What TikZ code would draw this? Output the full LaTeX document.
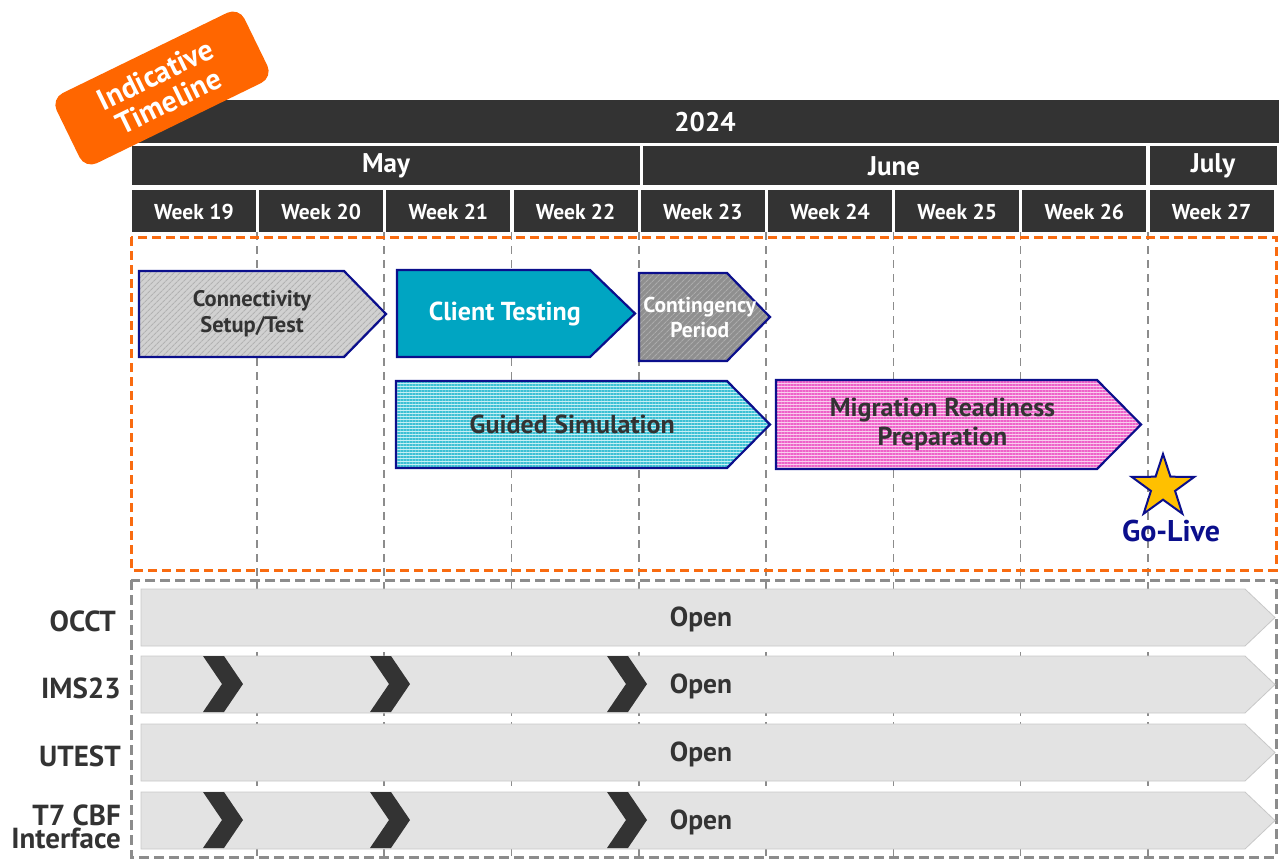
\documentclass[tikz,border=0pt]{standalone}
\usepackage{fontspec}
\setmainfont{PT Sans}
\usetikzlibrary{shapes.geometric,patterns.meta}

\definecolor{headdark}{HTML}{333333}
\definecolor{badgeorange}{HTML}{FF6600}
\definecolor{boxorange}{HTML}{F96B10}
\definecolor{navy}{HTML}{0B0F8C}
\definecolor{gridgray}{HTML}{8C8C8C}
\definecolor{bargray}{HTML}{E3E3E3}
\definecolor{barline}{HTML}{C8C8C8}
\definecolor{clientteal}{HTML}{00A5C2}
\definecolor{starfill}{HTML}{FFC000}
\definecolor{guidebase}{HTML}{C6F0F5}
\definecolor{guideline}{HTML}{3CC0D4}
\definecolor{migbase}{HTML}{F9CDEE}
\definecolor{migline}{HTML}{EE62C9}

\tikzset{
  headbar/.style={fill=headdark},
  headtext/.style={text=white, inner sep=0pt, font=\bfseries\fontsize{27}{27}\selectfont},
  weektext/.style={headtext, font=\bfseries\fontsize{21.5}{21.5}\selectfont},
  gridline/.style={gridgray, line width=1.6pt, dash pattern=on 8pt off 6pt},
  badge/.style={fill=badgeorange, rounded corners=13pt, rotate=26,
    minimum width=209pt, minimum height=78pt, inner sep=0pt},
  badgetext/.style={rotate=26, text=white, align=center, inner sep=0pt,
    font=\bfseries\fontsize{30}{30}\selectfont},
  phaseline/.style={draw=navy, line width=2.2pt, line join=miter},
  phasetext/.style={align=center, inner sep=0pt, text=headdark,
    font=\bfseries\fontsize{22.5}{26}\selectfont},
  connfill/.style={preaction={fill=black!18},
    pattern={Lines[angle=45,distance=4pt,line width=1.2pt]}, pattern color=black!30},
  contfill/.style={preaction={fill=black!44},
    pattern={Lines[angle=45,distance=4pt,line width=1.2pt]}, pattern color=black!33},
  clientfill/.style={fill=clientteal},
  guidefill/.style={preaction={fill=guidebase},
    pattern={Lines[angle=0,distance=3pt,line width=1.3pt]}, pattern color=guideline},
  migfill/.style={preaction={fill=migbase},
    pattern={Lines[angle=0,distance=3pt,line width=1.3pt]}, pattern color=migline},
  conntext/.style={phasetext},
  conttext/.style={phasetext, xshift=6pt, text=white, font=\bfseries\fontsize{21.5}{25}\selectfont},
  clienttext/.style={phasetext, text=white, font=\bfseries\fontsize{26}{26}\selectfont},
  guidetext/.style={phasetext, font=\bfseries\fontsize{26}{26}\selectfont},
  migtext/.style={phasetext, xshift=-5pt, font=\bfseries\fontsize{26}{29}\selectfont},
  openbar/.style={fill=bargray, draw=barline, line width=0.8pt},
  opentext/.style={text=headdark, inner sep=0pt, font=\bfseries\fontsize{27.5}{27.5}\selectfont},
  rowlabel/.style={text=headdark, anchor=east, align=right, inner sep=0pt,
    font=\bfseries\fontsize{29}{23}\selectfont},
}

% name, x1, y1, x2, y2, tip start, fill style, text style, text
\NewDocumentCommand{\phase}{mmmmmmmmm}{%
\draw[phaseline,#7] (#2,#3) -- (#6,#3) -- (#4,{(#3+#5)/2}) -- (#6,#5) -- (#2,#5) -- cycle;%
\node[#8] (#1) at ({(#2+(#6+#4)/2)/2},{(#3+#5)/2}) {#9};%
}

\begin{document}
\begin{tikzpicture}[x=1pt,y=-1pt]
\useasboundingbox (0,0) rectangle (1279,859);

% header
\fill[headbar] (132,100) rectangle (1279,143);
\fill[headbar] (132,146) rectangle (640,185);
\fill[headbar] (643,146) rectangle (1146,185);
\fill[headbar] (1150,146) rectangle (1277,185);
\node[headtext] (year) at (705,122) {2024};
\node[headtext] (may) at (386,166) {May};
\node[headtext] (june) at (894,166) {June};
\node[headtext] (july) at (1213,166) {July};
\foreach \w [count=\i from 0] in {19,...,27} {
  \fill[headbar] ({132+127.2*\i},190) rectangle ++(124,42);
  \node[weektext] (wk\w) at ({194+127.2*\i},212) {Week \w};
}

\foreach \i in {1,...,8}
  \draw[gridline] ({129.5+127.3*\i},232) -- ({129.5+127.3*\i},859);

\node[badge] (badge) at (162,88) {};
\node[badgetext] (badgelbl) at (badge.center) {Indicative\\Timeline};

% phases
\draw[boxorange, line width=3pt, dash pattern=on 9pt off 5pt] (131,237) rectangle (1276,570);
\phase{conn}{139}{271}{386}{357}{344}{connfill}{conntext}{Connectivity\\Setup/Test}
\phase{client}{397}{270}{635}{357}{590}{clientfill}{clienttext}{Client Testing}
\phase{cont}{639}{273}{770}{361}{727}{contfill}{conttext}{Contingency\\Period}
\phase{guide}{396}{381}{770}{468}{727}{guidefill}{guidetext}{Guided Simulation}
\phase{mig}{776}{380}{1141}{469}{1097}{migfill}{migtext}{Migration Readiness\\Preparation}

\node[star, star points=5, star point ratio=2.6, minimum size=66pt, inner sep=0pt,
  fill=starfill, draw=navy, line width=2pt] (star) at (1163,487) {};
\node[text=navy, inner sep=0pt, font=\bfseries\fontsize{30}{30}\selectfont] (golive) at (1171,531) {Go-Live};

% environments
\draw[gridgray, line width=3pt, dash pattern=on 10pt off 5pt] (131,580) rectangle (1276,857);
\foreach \y [count=\i] in {589,656,724,792} {
  \draw[openbar] (141,\y) -- (1245,\y) -- (1275,\y+28.5) -- (1245,\y+57) -- (141,\y+57) -- cycle;
  \node[opentext] (open\i) at (701,\y+30) {Open};
}
\foreach \y in {656,792}
  \foreach \x in {203,370,607}
    \fill[headdark] (\x,\y) -- ++(21,0) -- ++(19,28) -- ++(-19,28) -- ++(-21,0) -- ++(19,-28) -- cycle;

\node[rowlabel] (occt) at (116,621) {OCCT};
\node[rowlabel] (ims) at (121,688) {IMS23};
\node[rowlabel] (utest) at (121,756) {UTEST};
\node[rowlabel] (t7) at (121,827) {T7 CBF\\Interface};
\end{tikzpicture}
\end{document}
